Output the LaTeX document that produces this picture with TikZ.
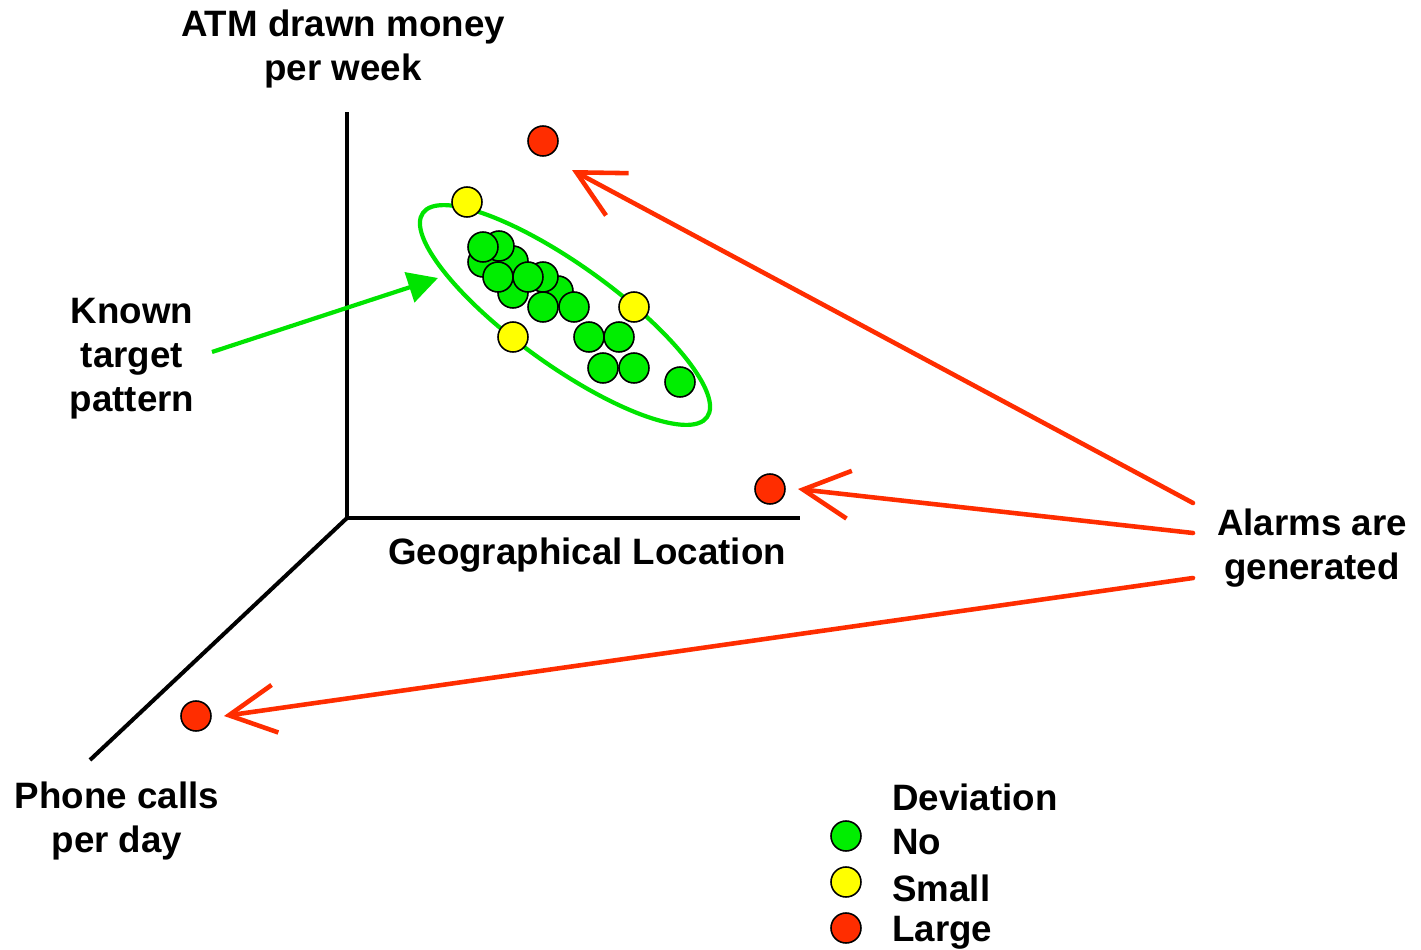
\documentclass[tikz,border=0pt]{standalone}
\usepackage{fontspec}
\setmainfont{Liberation Sans}
\usetikzlibrary{arrows.meta}
\definecolor{grn}{RGB}{0,238,0}
\definecolor{ylw}{RGB}{255,255,0}
\definecolor{rd}{RGB}{255,45,0}
\definecolor{grnline}{RGB}{0,228,0}
\tikzset{
  dot/.style={circle, draw=black, line width=0.9pt, minimum size=0.6cm, inner sep=0pt},
  gdot/.style={dot, fill=grn},
  ydot/.style={dot, fill=ylw},
  rdot/.style={dot, fill=rd},
  axis/.style={line width=2.3pt, black},
  lbl/.style={font=\fontsize{20.9}{25}\selectfont\bfseries, align=center, inner sep=0pt},
  alarm/.style={draw=rd, line width=2.6pt, line cap=round, -{Straight Barb[length=0.93cm,width=0.96cm,line width=2.6pt]}},
  hint/.style={draw=grnline, line width=2.4pt, -{Triangle[length=0.6cm,width=0.62cm]}}
}
\begin{document}
\begin{tikzpicture}[x=0.02cm, y=-0.02cm]
\useasboundingbox (0,0) rectangle (1421,950);
% axes
\coordinate (origin) at (347,518);
\coordinate (ytop) at (347,112);
\coordinate (xend) at (800,518);
\coordinate (zend) at (90,760);
\draw[axis] (ytop) -- (origin) -- (xend);
\draw[axis] (origin) -- (zend);
% labels
\node[lbl] (atm) at (343,49) {ATM drawn money\\per week};
\node[lbl] (known) at (132,359) {Known\\target\\pattern};
\node[lbl] (geo) at (587,555) {Geographical Location};
\node[lbl] (alarm) at (1312,548) {Alarms are\\generated};
\node[lbl] (phone) at (117,821) {Phone calls\\per day};
% ellipse
\draw[grnline, line width=2.4pt, rotate around={-35.7:(565,315)}] (565,315) ellipse [x radius=3.5cm, y radius=1.0cm];
% cluster (back to front)
\node[gdot] (g1) at (558,291) {};
\node[gdot] (g2) at (543,277) {};
\node[gdot] (g3) at (513,293) {};
\node[gdot] (g4) at (513,261) {};
\node[gdot] (g5) at (483,262) {};
\node[gdot] (g6) at (499,246) {};
\node[gdot] (g7) at (483,247) {};
\node[gdot] (g8) at (528,277) {};
\node[gdot] (g9) at (498,277) {};
\node[gdot] (g10) at (543,307) {};
\node[gdot] (g11) at (574,307) {};
\node[gdot] (g12) at (589,337) {};
\node[gdot] (g13) at (619,337) {};
\node[gdot] (g14) at (603,368) {};
\node[gdot] (g15) at (634,368) {};
\node[gdot] (g16) at (680,382) {};
\node[ydot] (y1) at (467,202) {};
\node[ydot] (y2) at (634,307) {};
\node[ydot] (y3) at (513,337) {};
% outliers
\node[rdot] (r1) at (543,141) {};
\node[rdot] (r2) at (770,489) {};
\node[rdot] (r3) at (196,716) {};
% arrows
\coordinate (a1s) at (1193,503);
\coordinate (a2s) at (1193,533);
\coordinate (a3s) at (1193,578);
\coordinate (a1e) at (572,170);
\coordinate (a2e) at (798,489);
\coordinate (a3e) at (224,716);
\draw[alarm] (a1s) -- (a1e);
\draw[alarm] (a2s) -- (a2e);
\draw[alarm] (a3s) -- (a3e);
\coordinate (ks) at (212,352);
\coordinate (ke) at (438,278);
\draw[hint] (ks) -- (ke);
% legend
\node[lbl, anchor=west] (dev) at (892,797) {Deviation};
\node[gdot] (lg) at (846,836) {};
\node[ydot] (ly) at (846,882) {};
\node[rdot] (lr) at (846,928) {};
\node[lbl, anchor=west] (lno) at (892,842) {No};
\node[lbl, anchor=west] (lsm) at (892,888) {Small};
\node[lbl, anchor=west] (llg) at (892,933) {Large};
\end{tikzpicture}
\end{document}
